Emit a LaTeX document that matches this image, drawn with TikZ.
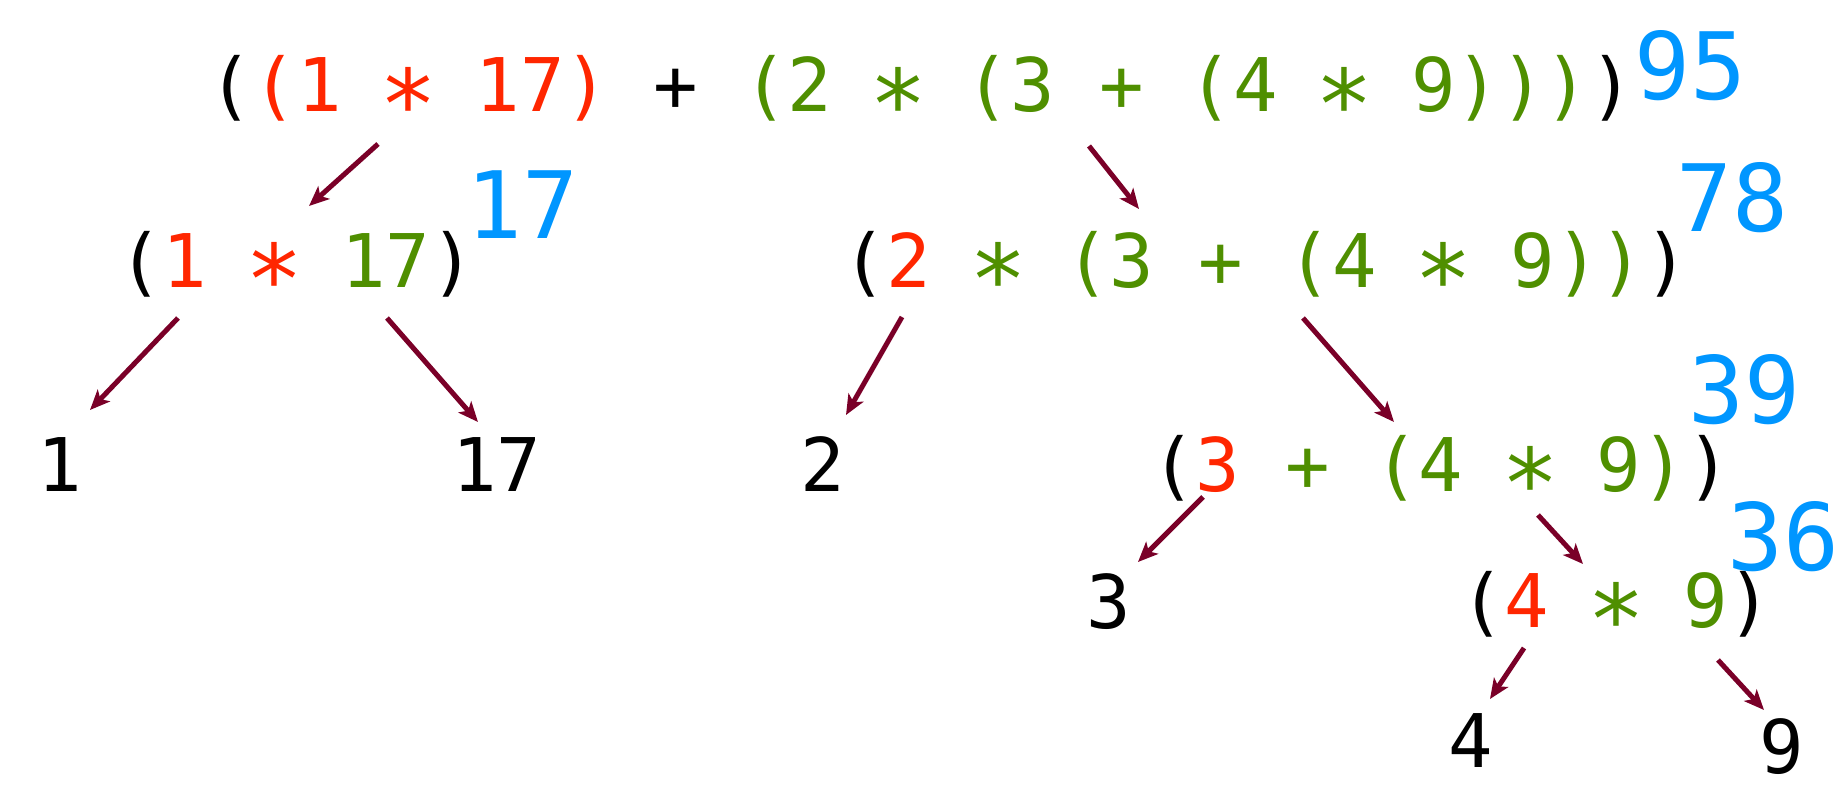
\documentclass[tikz,border=0pt]{standalone}
\usepackage{fontspec}
\usepackage{graphicx}
\setmonofont{DejaVu Sans Mono}
\usetikzlibrary{arrows.meta}
\definecolor{exred}{RGB}{255,38,0}
\definecolor{exgreen}{RGB}{79,143,0}
\definecolor{exblue}{RGB}{0,150,255}
\definecolor{arrred}{RGB}{122,0,40}
\newcommand{\mulop}{\makebox[\fontcharwd\font`\0]{\raisebox{-0.1em}{\scalebox{1.3}{∗}}}}

\begin{document}
\begin{tikzpicture}[x=0.5pt, y=-0.5pt,
		expr/.style={anchor=base west, inner sep=0pt, font=\ttfamily\fontsize{37}{44}\selectfont},
		val/.style={anchor=base west, inner sep=0pt, text=exblue, font=\ttfamily\fontsize{46.5}{56}\selectfont},
		arr/.style={arrred, line width=2.5pt, -{Stealth[length=10pt, width=8.5pt, inset=2.5pt]}}]
		\useasboundingbox (0, 0) rectangle (1833, 792);
		\node[expr] (e95) at (208, 112) {(\textcolor{exred}{(1 \mulop{} 17)} + \textcolor{exgreen}{(2 \mulop{} (3 + (4 \mulop{} 9)))})};
		\node[val] (v95) at (1634, 100) {95};
		\node[expr] (e17) at (118, 287) {(\textcolor{exred}{1 \mulop} \textcolor{exgreen}{17})};
		\node[val] (v17) at (466, 238) {17};
		\node[expr] (e78) at (842, 287) {(\textcolor{exred}{2} \textcolor{exgreen}{\mulop{} (3 + (4 \mulop{} 9))})};
		\node[val] (v78) at (1676, 232) {78};
		\node[expr] (n1) at (37, 491) {1};
		\node[expr] (n17) at (452, 491) {17};
		\node[expr] (n2) at (800, 491) {2};
		\node[expr] (e39) at (1151, 491) {(\textcolor{exred}{3} \textcolor{exgreen}{+ (4 \mulop{} 9)})};
		\node[val] (v39) at (1688, 423) {39};
		\node[expr] (n3) at (1086, 628) {3};
		\node[expr] (e36) at (1460, 627) {(\textcolor{exred}{4} \textcolor{exgreen}{\mulop{} 9})};
		\node[val] (v36) at (1727, 570) {36};
		\node[expr] (n4) at (1448, 767) {4};
		\node[expr] (n9) at (1759, 773) {9};
		\coordinate (s95l) at (378, 144);
		\coordinate (t17) at (309, 206);
		\coordinate (s95r) at (1089, 146);
		\coordinate (t78) at (1139, 209);
		\coordinate (s17l) at (178, 318);
		\coordinate (t1) at (90, 410);
		\coordinate (s17r) at (387, 318);
		\coordinate (t17b) at (478, 422);
		\coordinate (s78l) at (902, 317);
		\coordinate (t2) at (846, 415);
		\coordinate (s78r) at (1303, 318);
		\coordinate (t39) at (1394, 422);
		\coordinate (s39l) at (1203, 497);
		\coordinate (t3) at (1138, 562);
		\coordinate (s39r) at (1538, 515);
		\coordinate (t36) at (1583, 564);
		\coordinate (s36l) at (1524, 648);
		\coordinate (t4) at (1490, 699);
		\coordinate (s36r) at (1718, 660);
		\coordinate (t9) at (1764, 710);
		\draw[arr] (s95l) -- (t17);
		\draw[arr] (s95r) -- (t78);
		\draw[arr] (s17l) -- (t1);
		\draw[arr] (s17r) -- (t17b);
		\draw[arr] (s78l) -- (t2);
		\draw[arr] (s78r) -- (t39);
		\draw[arr] (s39l) -- (t3);
		\draw[arr] (s39r) -- (t36);
		\draw[arr] (s36l) -- (t4);
		\draw[arr] (s36r) -- (t9);
	\end{tikzpicture}
\end{document}
